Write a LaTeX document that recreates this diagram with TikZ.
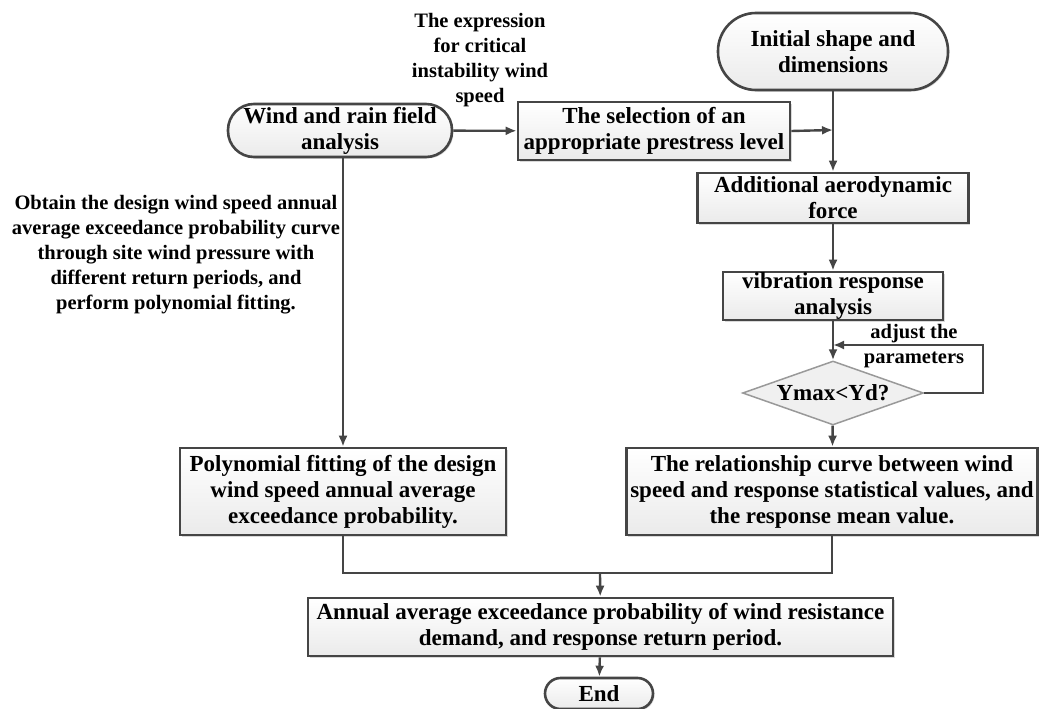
\documentclass[tikz,border=0pt]{standalone}
\usepackage{fontspec}
\setmainfont{Liberation Serif}
\usetikzlibrary{shapes.geometric,arrows.meta,shadows}
\definecolor{ln}{HTML}{454545}
\begin{document}
\begin{tikzpicture}[x=1pt,y=-1pt,
  every node/.style={font=\bfseries\fontsize{23}{26}\selectfont, align=center, inner sep=0pt},
  box/.style={draw=ln, line width=2.6pt, top color=white, bottom color=gray!16,
     drop shadow={shadow xshift=1.5pt, shadow yshift=-1.5pt, opacity=0.3}},
  term/.style={box, rounded corners=#1},
  cond/.style={draw=gray!80, line width=1.5pt, fill=gray!12, diamond, shape aspect=2.8},
  lbl/.style={font=\bfseries\fontsize{20.5}{25}\selectfont},
  con/.style={draw=ln, line width=2.4pt},
  arr/.style={con, -{Latex[length=11pt,width=9pt]}}]
\useasboundingbox (0,0) rectangle (1039,709);

\node[term=26pt, minimum width=224pt, minimum height=53pt] (wind) at (340,130.5) {Wind and rain field\\analysis};
\node[lbl] (expr) at (480,60) {The expression\\for critical\\instability wind\\speed};
\node[box, minimum width=272pt, minimum height=58pt] (sel) at (654,131) {The selection of an\\appropriate prestress level};
\node[term=38pt, minimum width=230pt, minimum height=77pt] (init) at (833,51.5) {Initial shape and\\dimensions};
\node[box, minimum width=271pt, minimum height=50pt] (add) at (833,198) {Additional aerodynamic\\force};
\node[box, minimum width=220pt, minimum height=48pt] (vib) at (833,296) {vibration response\\analysis};
\node[cond, minimum width=181pt, minimum height=64pt] (dia) at (833,393) {Ymax<Yd?};
\node[lbl] (adj) at (914,346) {adjust the\\parameters};
\node[lbl] (obt) at (176,255) {Obtain the design wind speed annual\\average exceedance probability curve\\through site wind pressure with\\different return periods, and\\perform polynomial fitting.};
\node[box, minimum width=326pt, minimum height=87pt] (poly) at (343,491.5) {Polynomial fitting of the design\\wind speed annual average\\exceedance probability.};
\node[box, minimum width=411pt, minimum height=87pt] (rel) at (832,491.5) {The relationship curve between wind\\speed and response statistical values, and\\the response mean value.};
\node[box, minimum width=585pt, minimum height=58pt] (ann) at (600.5,627) {Annual average exceedance probability of wind resistance\\demand, and response return period.};
\node[term=15.5pt, minimum width=108pt, minimum height=31pt] (end) at (599,693.5) {End};

\coordinate (j1) at (833,130);
\coordinate (j2) at (833,345);
\coordinate (m) at (600,573);

\draw[arr] (wind) -- (sel);
\draw[arr] (sel.east) -- (j1);
\draw[arr] (init) -- (add);
\draw[arr] (add) -- (vib);
\draw[arr] (vib) -- (dia);
\draw[arr] (dia.east) -- ++(59,0) |- (j2);
\draw[arr] (dia) -- (rel);
\draw[arr] (wind.south -| poly.north) -- (poly.north);
\draw[con] (poly.south) |- (m) -| (rel.south);
\draw[arr] (m) -- (ann);
\draw[arr] (ann) -- (end);
\end{tikzpicture}
\end{document}
